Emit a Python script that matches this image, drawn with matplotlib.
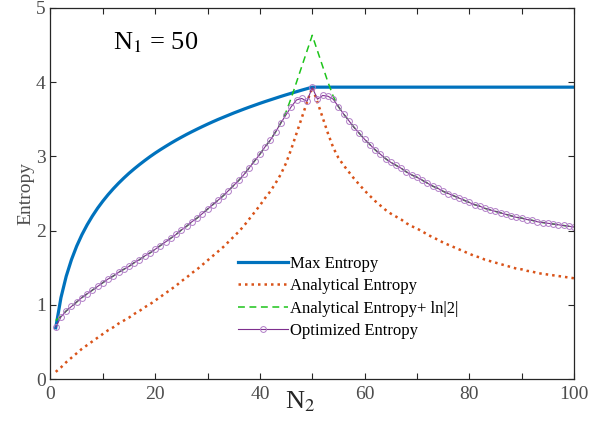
import numpy as np
import matplotlib
matplotlib.use('Agg')
import matplotlib.pyplot as plt

plt.rcParams['font.family'] = ['Liberation Serif', 'DejaVu Serif']
plt.rcParams['mathtext.fontset'] = 'stix'

# N2 = 1..100
n2 = list(range(1, 101))

max_n2 = list(range(1, 51)) + [100]
max_entropy = [0.693, 1.099, 1.386, 1.609, 1.792, 1.946, 2.079, 2.197, 2.303, 2.398,
               2.485, 2.565, 2.639, 2.708, 2.773, 2.833, 2.890, 2.944, 2.996, 3.045,
               3.091, 3.135, 3.178, 3.219, 3.258, 3.296, 3.332, 3.367, 3.401, 3.434,
               3.466, 3.497, 3.526, 3.555, 3.584, 3.611, 3.638, 3.664, 3.689, 3.714,
               3.738, 3.761, 3.784, 3.807, 3.829, 3.850, 3.871, 3.892, 3.912, 3.932,
               3.932]

analytical = [0.10, 0.16, 0.23, 0.29, 0.35, 0.41, 0.46, 0.51, 0.56, 0.61,
              0.66, 0.70, 0.75, 0.79, 0.83, 0.88, 0.92, 0.97, 1.01, 1.06,
              1.11, 1.16, 1.21, 1.26, 1.32, 1.37, 1.43, 1.48, 1.54, 1.60,
              1.66, 1.72, 1.78, 1.85, 1.92, 1.99, 2.07, 2.16, 2.25, 2.34,
              2.44, 2.53, 2.64, 2.76, 2.91, 3.10, 3.31, 3.52, 3.73, 3.93,
              3.73, 3.52, 3.31, 3.12, 2.98, 2.88, 2.79, 2.70, 2.62, 2.54,
              2.47, 2.40, 2.34, 2.28, 2.23, 2.19, 2.15, 2.10, 2.06, 2.03,
              1.99, 1.95, 1.91, 1.88, 1.84, 1.81, 1.78, 1.75, 1.72, 1.69,
              1.66, 1.64, 1.61, 1.59, 1.57, 1.55, 1.53, 1.51, 1.49, 1.48,
              1.46, 1.45, 1.43, 1.42, 1.41, 1.40, 1.39, 1.38, 1.37, 1.36]

analytical_ln2 = [0.79, 0.85, 0.92, 0.98, 1.04, 1.10, 1.15, 1.20, 1.25, 1.30,
                  1.35, 1.39, 1.44, 1.48, 1.52, 1.57, 1.61, 1.66, 1.70, 1.75,
                  1.80, 1.85, 1.90, 1.95, 2.01, 2.06, 2.12, 2.17, 2.23, 2.29,
                  2.35, 2.41, 2.47, 2.54, 2.61, 2.68, 2.76, 2.85, 2.94, 3.03,
                  3.13, 3.22, 3.33, 3.45, 3.60, 3.79, 4.00, 4.21, 4.42, 4.63,
                  4.42, 4.21, 4.00, 3.81, 3.67, 3.57, 3.48, 3.39, 3.31, 3.23,
                  3.16, 3.09, 3.03, 2.97, 2.92, 2.88, 2.84, 2.79, 2.75, 2.72,
                  2.68, 2.64, 2.60, 2.57, 2.53, 2.50, 2.47, 2.44, 2.41, 2.38,
                  2.35, 2.33, 2.30, 2.28, 2.26, 2.24, 2.22, 2.20, 2.18, 2.17,
                  2.15, 2.14, 2.12, 2.11, 2.10, 2.09, 2.08, 2.07, 2.06, 2.05]

optimized = [0.70, 0.84, 0.92, 0.98, 1.04, 1.10, 1.15, 1.20, 1.25, 1.30,
             1.35, 1.39, 1.44, 1.48, 1.52, 1.57, 1.61, 1.66, 1.70, 1.75,
             1.80, 1.85, 1.90, 1.95, 2.01, 2.06, 2.12, 2.17, 2.23, 2.29,
             2.35, 2.41, 2.47, 2.54, 2.61, 2.68, 2.76, 2.85, 2.94, 3.03,
             3.13, 3.22, 3.33, 3.45, 3.56, 3.67, 3.76, 3.78, 3.74, 3.93,
             3.77, 3.82, 3.81, 3.77, 3.67, 3.57, 3.48, 3.39, 3.31, 3.23,
             3.16, 3.09, 3.03, 2.97, 2.92, 2.88, 2.84, 2.79, 2.75, 2.72,
             2.68, 2.64, 2.60, 2.57, 2.53, 2.50, 2.47, 2.44, 2.41, 2.38,
             2.35, 2.33, 2.30, 2.28, 2.26, 2.24, 2.22, 2.20, 2.18, 2.17,
             2.15, 2.14, 2.12, 2.11, 2.10, 2.09, 2.08, 2.07, 2.06, 2.05]

fig = plt.figure(figsize=(6.04, 4.22), dpi=100)
ax = fig.add_axes([0.0836, 0.1012, 0.8667, 0.8803])

ax.plot(max_n2, max_entropy, color='#0072BD', linewidth=2.3, label='Max Entropy')
ax.plot(n2, analytical, color='#D95319', linestyle=(0, (1, 1.6)), linewidth=1.8,
        label='Analytical Entropy')
ax.plot(n2, analytical_ln2, color='#1DC41A', linestyle=(0, (4.5, 3)), linewidth=1.1,
        label='Analytical Entropy+ ln|2|')
ax.plot(n2, optimized, color='#7E2F8E', linewidth=0.8, marker='o', markersize=4.2,
        markerfacecolor='none', markeredgecolor='#B07CC6', markeredgewidth=0.7,
        label='Optimized Entropy')

ax.set_xlim(0, 100)
ax.set_ylim(0, 5)
ax.set_xticks([0, 20, 40, 60, 80, 100])
ax.set_xticks(range(10, 100, 20), minor=True)
ax.set_yticks([0, 1, 2, 3, 4, 5])
ax.tick_params(which='both', direction='in', top=True, right=True,
               labelsize=14, labelcolor='#4d4d4d', color='#262626', width=0.8)
ax.tick_params(which='major', length=4.5)
ax.tick_params(which='minor', length=4.5)
ax.tick_params(axis='x', pad=5)
for s in ax.spines.values():
    s.set_color('#262626')
    s.set_linewidth(0.9)

ax.set_xlabel('N$_2$', fontsize=19, color='#262626')
ax.xaxis.set_label_coords(0.477, -0.028)
ax.set_ylabel('Entropy', fontsize=14, color='#4d4d4d', labelpad=1)

ax.text(0.12, 0.905, 'N$_1$ = 50', transform=ax.transAxes, fontsize=19,
        color='black', va='center')

ax.legend(loc='upper left', bbox_to_anchor=(0.345, 0.35), frameon=False,
          fontsize=12, handlelength=3.0, handletextpad=0.12, labelspacing=0.38,
          borderaxespad=0)

fig.savefig('out.png', dpi=100)
